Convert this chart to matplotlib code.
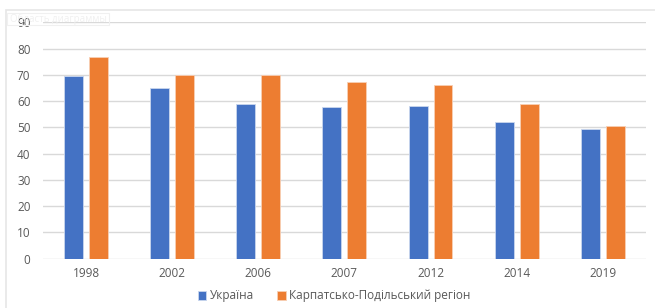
import numpy as np
import matplotlib.pyplot as plt
from matplotlib.patches import Rectangle

# data
years = ['1998', '2002', '2006', '2007', '2012', '2014', '2019']
ukraine = [69.5, 65.0, 58.8, 57.8, 58.0, 52.0, 49.2]
region = [76.7, 69.8, 69.9, 67.1, 66.0, 58.9, 50.5]
series_names = ['Україна', 'Карпатсько-Подільський регіон']

plt.rcParams['font.family'] = ['Open Sans', 'DejaVu Sans']

fig = plt.figure(figsize=(6.55, 3.08), dpi=100)
ax = fig.add_axes([0.0656, 0.160, 0.9204, 0.7676])

# light chart-area border
fig.patches.append(Rectangle((6 / 655, -0.05), 1.2, 1 - 10 / 308 + 0.05,
                             transform=fig.transFigure, fill=False,
                             edgecolor='#e6e6e6', linewidth=1.2))
# faint tooltip box at top left
fig.patches.append(Rectangle((7 / 655, 1 - 25 / 308), 102 / 655, 12 / 308,
                             transform=fig.transFigure, fill=False,
                             edgecolor='#f0f0f0', linewidth=0.8))
fig.text(10 / 655, 1 - 19 / 308, 'Область диаграммы', fontsize=7,
         color='#f0f0f0', va='center', ha='left', zorder=0)

x = np.arange(len(years))
w = 0.22
off = 0.145
ax.bar(x - off, ukraine, w, color='#4472C4', edgecolor='#c9d6ee',
       linewidth=0.6, label=series_names[0], zorder=3)
ax.bar(x + off, region, w, color='#ED7D31', edgecolor='#f8cfb4',
       linewidth=0.6, label=series_names[1], zorder=3)

ax.set_xlim(-0.5, len(years) - 0.5)
ax.set_ylim(0, 90)
ax.set_yticks(range(0, 91, 10))
ax.set_xticks(x)
ax.set_xticklabels(years)
ax.grid(axis='y', color='#d9d9d9', linewidth=1, zorder=0)
ax.patch.set_alpha(0)
for s in ax.spines.values():
    s.set_visible(False)
ax.tick_params(axis='both', length=0, labelsize=8.5, colors='#595959')
ax.tick_params(axis='y', pad=9)
ax.tick_params(axis='x', pad=6)

ax.legend(loc='center', bbox_to_anchor=(0.51, 1 - 296 / 308),
          bbox_transform=fig.transFigure, ncol=2, frameon=False,
          fontsize=8.5, handlelength=0.7, handleheight=0.7,
          columnspacing=2.0, handletextpad=0.3, labelcolor='#595959')

fig.savefig('out.png', dpi=100)
